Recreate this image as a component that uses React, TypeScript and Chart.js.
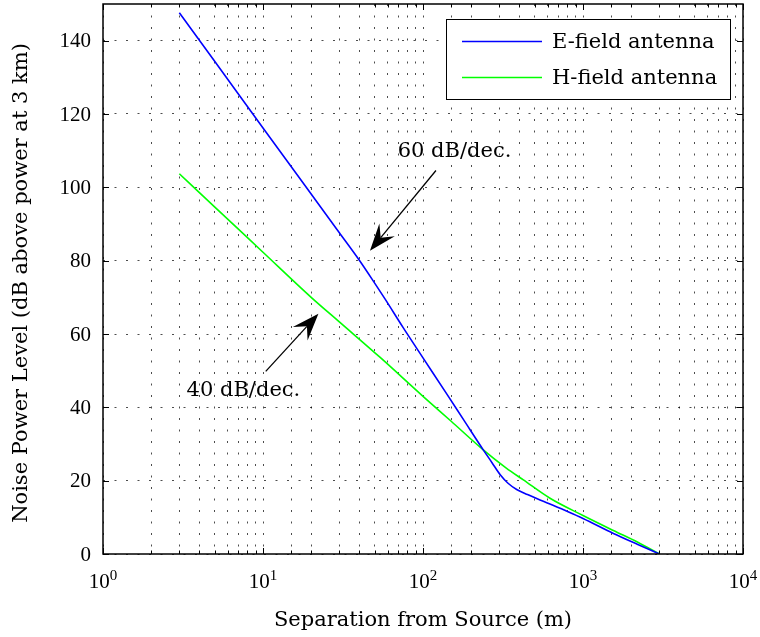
import { useEffect, useRef } from 'react';
import { Chart, registerables } from 'chart.js';

Chart.register(...registerables);

// ---- data ----
const eFieldDistance = [3, 5, 10, 17, 30, 40, 50, 58, 75, 100, 141, 180, 238, 270, 303, 340, 385, 450, 593, 800, 1000, 1549, 2200, 3000];
const eFieldLevel = [147.6, 134.3, 116.2, 102.4, 87.6, 80.1, 73.8, 69.5, 61.8, 53.5, 43.6, 36.5, 28.4, 24.9, 21.7, 19.3, 17.6, 16.2, 14.0, 11.6, 9.7, 5.6, 2.6, 0];

const hFieldDistance = [3, 5, 10, 20, 30, 54, 100, 150, 238, 330, 424, 622, 1000, 1549, 2200, 3000];
const hFieldLevel = [103.7, 94.6, 82.3, 70.0, 63.3, 53.6, 43.0, 36.2, 28.4, 23.5, 20.2, 15.2, 10.5, 6.4, 3.2, 0];

const seriesLabels = ['E-field antenna', 'H-field antenna'];
const seriesColors = ['#0000ff', '#00ff00'];

const yTickValues = [0, 20, 40, 60, 80, 100, 120, 140];
const xMajorValues = [1, 10, 100, 1000, 10000];

const xTitle = 'Separation from Source (m)';
const yTitle = 'Noise Power Level (dB above power at 3 km)';

// slope annotations (data coordinates)
const slopeTexts = ['60 dB/dec.', '40 dB/dec.'];
const slopeTextX = [69.5, 3.33];
const slopeTextY = [108.4, 43.1];
const arrowFromX = [120.5, 10.4];
const arrowFromY = [104.6, 49.8];
const arrowToX = [46.6, 22.2];
const arrowToY = [82.7, 65.5];

const TEXT_FONT = '21px "DejaVu Serif"';
const TICK_FONT = '21px "Liberation Serif"';
const EXP_FONT = '15px "Liberation Serif"';

function drawArrow(ctx: CanvasRenderingContext2D, x0: number, y0: number, x1: number, y1: number) {
  const dx = x1 - x0;
  const dy = y1 - y0;
  const L = Math.hypot(dx, dy);
  const ux = dx / L;
  const uy = dy / L;
  const px = -uy;
  const py = ux;
  const headLen = 27;
  const half = 10;
  const notch = 17;
  ctx.strokeStyle = '#000';
  ctx.lineWidth = 1.3;
  ctx.beginPath();
  ctx.moveTo(x0, y0);
  ctx.lineTo(x1 - ux * notch, y1 - uy * notch);
  ctx.stroke();
  ctx.fillStyle = '#000';
  ctx.beginPath();
  ctx.moveTo(x1, y1);
  ctx.lineTo(x1 - ux * headLen + px * half, y1 - uy * headLen + py * half);
  ctx.lineTo(x1 - ux * notch, y1 - uy * notch);
  ctx.lineTo(x1 - ux * headLen - px * half, y1 - uy * headLen - py * half);
  ctx.closePath();
  ctx.fill();
}

const decorPlugin = {
  id: 'decor',
  afterDraw(chart: any) {
    const { ctx, chartArea: a, scales } = chart;
    const x = scales.x;
    const y = scales.y;
    ctx.save();

    // axes box
    ctx.strokeStyle = '#000';
    ctx.lineWidth = 1.5;
    ctx.strokeRect(a.left, a.top, a.right - a.left, a.bottom - a.top);

    // inward tick marks
    ctx.lineWidth = 1;
    ctx.beginPath();
    for (const t of x.ticks) {
      const p = Math.round(x.getPixelForValue(t.value)) + 0.5;
      const len = xMajorValues.includes(t.value) ? 6 : 3.5;
      ctx.moveTo(p, a.bottom);
      ctx.lineTo(p, a.bottom - len);
      ctx.moveTo(p, a.top);
      ctx.lineTo(p, a.top + len);
    }
    for (const v of yTickValues) {
      const p = Math.round(y.getPixelForValue(v)) + 0.5;
      ctx.moveTo(a.left, p);
      ctx.lineTo(a.left + 6, p);
      ctx.moveTo(a.right, p);
      ctx.lineTo(a.right - 6, p);
    }
    ctx.stroke();

    // y tick labels
    ctx.fillStyle = '#000';
    ctx.font = TICK_FONT;
    ctx.textAlign = 'right';
    ctx.textBaseline = 'alphabetic';
    for (const v of yTickValues) {
      ctx.fillText(String(v), a.left - 12, y.getPixelForValue(v) + 6.5);
    }

    // x tick labels 10^k
    ctx.textAlign = 'left';
    for (const v of xMajorValues) {
      const k = Math.round(Math.log10(v));
      const p = x.getPixelForValue(v);
      ctx.font = TICK_FONT;
      const wb = ctx.measureText('10').width;
      ctx.font = EXP_FONT;
      const we = ctx.measureText(String(k)).width;
      const start = p - (wb + we) / 2;
      ctx.font = TICK_FONT;
      ctx.fillText('10', start, a.bottom + 34);
      ctx.font = EXP_FONT;
      ctx.fillText(String(k), start + wb, a.bottom + 26);
    }

    // axis titles
    ctx.font = TEXT_FONT;
    ctx.textAlign = 'center';
    ctx.fillText(xTitle, (a.left + a.right) / 2, 626);
    ctx.save();
    ctx.translate(27, (a.top + a.bottom) / 2 + 4);
    ctx.rotate(-Math.PI / 2);
    ctx.fillText(yTitle, 0, 0);
    ctx.restore();

    // annotations
    ctx.textAlign = 'left';
    for (let i = 0; i < slopeTexts.length; i++) {
      drawArrow(
        ctx,
        x.getPixelForValue(arrowFromX[i]),
        y.getPixelForValue(arrowFromY[i]),
        x.getPixelForValue(arrowToX[i]),
        y.getPixelForValue(arrowToY[i])
      );
      ctx.fillStyle = '#000';
      ctx.font = TEXT_FONT;
      ctx.fillText(slopeTexts[i], x.getPixelForValue(slopeTextX[i]), y.getPixelForValue(slopeTextY[i]));
    }

    // legend
    const lx = 446;
    const ly = 19.5;
    const lw = 284;
    const lh = 80;
    ctx.fillStyle = '#fff';
    ctx.fillRect(lx, ly, lw, lh);
    ctx.strokeStyle = '#000';
    ctx.lineWidth = 1;
    ctx.strokeRect(lx + 0.5, ly, lw, lh);
    chart.data.datasets.forEach((ds: any, i: number) => {
      const yy = ly + 22 + i * 36;
      ctx.strokeStyle = ds.borderColor;
      ctx.lineWidth = 1.5;
      ctx.beginPath();
      ctx.moveTo(lx + 16, yy);
      ctx.lineTo(lx + 96, yy);
      ctx.stroke();
      ctx.fillStyle = '#000';
      ctx.font = TEXT_FONT;
      ctx.textAlign = 'left';
      ctx.fillText(ds.label, lx + 106, yy + 6);
    });

    ctx.restore();
  },
};

export default function App() {
  const canvasRef = useRef<HTMLCanvasElement | null>(null);

  useEffect(() => {
    const canvas = canvasRef.current;
    if (!canvas) return;
    const chart = new Chart(canvas, {
      type: 'line',
      data: {
        datasets: [
          {
            label: seriesLabels[0],
            data: eFieldDistance.map((d, i) => ({ x: d, y: eFieldLevel[i] })),
            borderColor: seriesColors[0],
            borderWidth: 1.6,
            pointRadius: 0,
            cubicInterpolationMode: 'monotone',
            fill: false,
          },
          {
            label: seriesLabels[1],
            data: hFieldDistance.map((d, i) => ({ x: d, y: hFieldLevel[i] })),
            borderColor: seriesColors[1],
            borderWidth: 1.6,
            pointRadius: 0,
            cubicInterpolationMode: 'monotone',
            fill: false,
          },
        ],
      },
      options: {
        animation: false,
        responsive: true,
        maintainAspectRatio: false,
        layout: { padding: { top: 4, right: 17, left: 0, bottom: 0 } },
        plugins: {
          legend: { display: false },
          tooltip: { enabled: false },
        },
        scales: {
          x: {
            type: 'logarithmic',
            min: 1,
            max: 10000,
            ticks: { display: false },
            grid: { color: 'rgba(0,0,0,0.7)', lineWidth: 1, drawTicks: false },
            border: { display: false, dash: [2, 9.5] },
            afterFit: (s: any) => {
              s.height = 83;
            },
          },
          y: {
            type: 'linear',
            min: 0,
            max: 150,
            ticks: { display: false },
            afterBuildTicks: (s: any) => {
              s.ticks = yTickValues.map((v) => ({ value: v }));
            },
            grid: { color: 'rgba(0,0,0,0.7)', lineWidth: 1, drawTicks: false },
            border: { display: false, dash: [2, 9.5] },
            afterFit: (s: any) => {
              s.width = 103;
            },
          },
        },
      },
      plugins: [decorPlugin],
    } as any);
    return () => chart.destroy();
  }, []);

  return (
    <div style={{ position: 'fixed', left: 0, top: 0, width: 760, height: 637, background: '#fff' }}>
      <canvas ref={canvasRef} />
    </div>
  );
}
